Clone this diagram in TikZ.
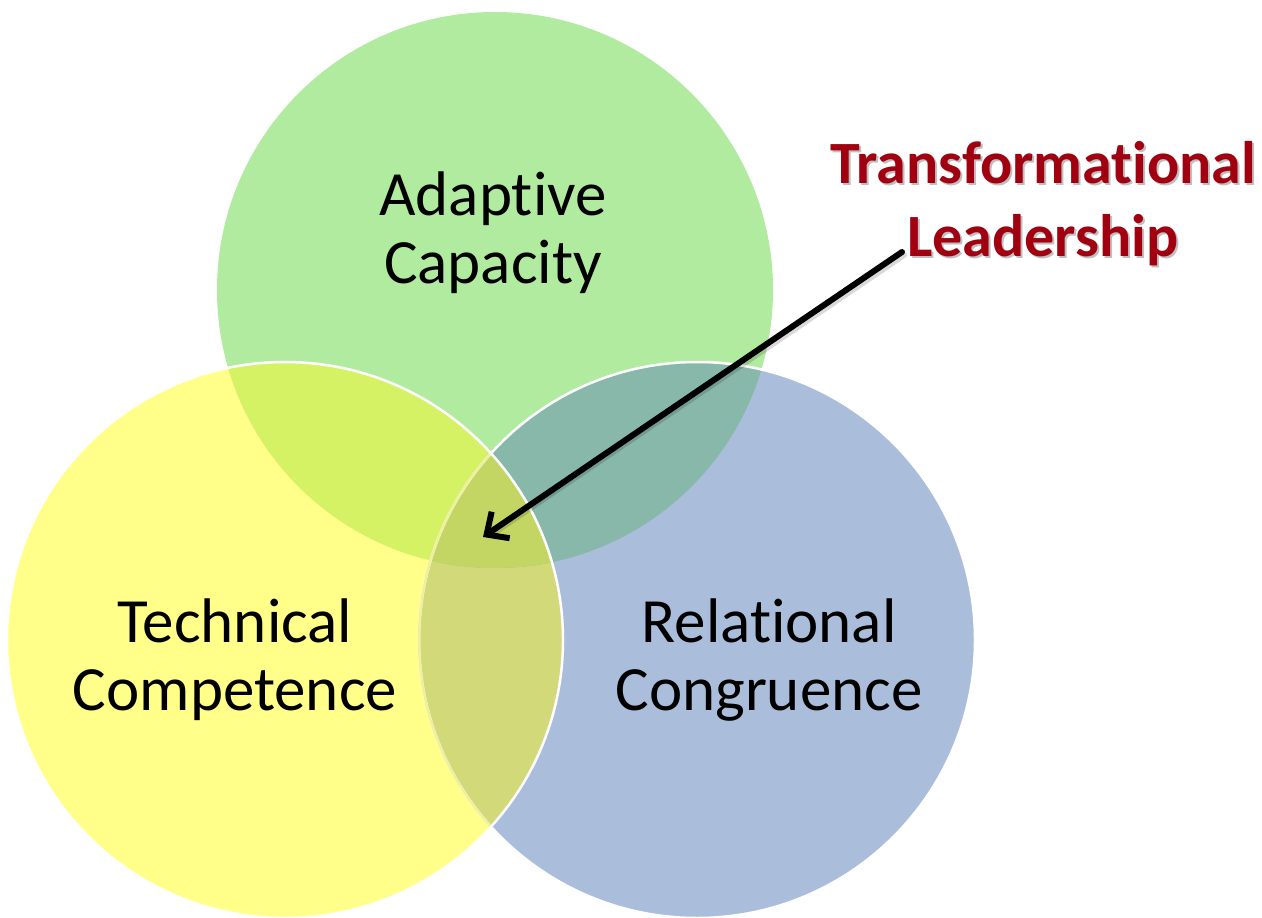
\documentclass[tikz,border=0pt]{standalone}
\usepackage{fontspec}
\setmainfont{Carlito}[Ligatures=NoCommon]
\usetikzlibrary{arrows.meta}
\definecolor{gfill}{HTML}{B1EBA0}
\definecolor{yfill}{HTML}{FFFF8A}
\definecolor{bfill}{HTML}{AABEDC}
\definecolor{gyfill}{HTML}{D4F264}
\definecolor{gbfill}{HTML}{88B8AA}
\definecolor{ybfill}{HTML}{D2D978}
\definecolor{gybfill}{HTML}{C3D664}
\definecolor{yline}{HTML}{EEF0A0}
\definecolor{tlred}{HTML}{A0000F}
\begin{document}
\begin{tikzpicture}[x=1pt,y=-1pt,
  lbl/.style={font=\fontsize{63}{68}\selectfont, align=center, text=black, inner sep=0pt},
  tlstyle/.style={font=\bfseries\fontsize{60}{73}\selectfont, align=center, inner sep=0pt},
  rim/.style={line width=2.5pt},
  pointer/.style={line width=6pt, black, -{Straight Barb[length=17pt,width=32pt,line width=6pt]}, line cap=round},
  pshadow/.style={line width=6pt, black, opacity=0.15, line cap=round}]
\useasboundingbox (0,0) rectangle (1262,918);
\coordinate (G) at (495,290);
\coordinate (Y) at (285,640);
\coordinate (B) at (697,640);
\fill[gfill] (G) circle (278pt);
\fill[bfill] (B) circle (278pt);
\fill[yfill] (Y) circle (278pt);
\begin{scope}
  \clip (Y) circle (278pt);
  \fill[ybfill] (B) circle (278pt);
\end{scope}
\begin{scope}
  \clip (G) circle (278pt);
  \fill[gyfill] (Y) circle (278pt);
  \fill[gbfill] (B) circle (278pt);
  \clip (Y) circle (278pt);
  \fill[gybfill] (B) circle (278pt);
\end{scope}
\draw[rim, white] (B) circle (278pt);
\begin{scope}
  \clip (Y) circle (278pt);
  \draw[rim, yline] (B) circle (278pt);
\end{scope}
\draw[rim, white] (Y) circle (278pt);
\node[lbl] (ac) at (493,233) {Adaptive\\Capacity};
\node[lbl] (tc) at (235,660) {Technical\\Competence};
\node[lbl] (rc) at (769,660) {Relational\\Congruence};
\node[tlstyle, text=black, opacity=0.25] (tlshadow) at (1045,206) {Transformational\\Leadership};
\node[tlstyle, text=tlred] (tl) at (1043,204) {Transformational\\Leadership};
\coordinate (as) at (902,252);
\coordinate (tip) at (483,537);
\coordinate (ass) at (904,255);
\coordinate (tips) at (492,534);
\draw[pshadow] (ass) -- (tips);
\draw[pointer] (as) -- (tip);
\end{tikzpicture}
\end{document}
